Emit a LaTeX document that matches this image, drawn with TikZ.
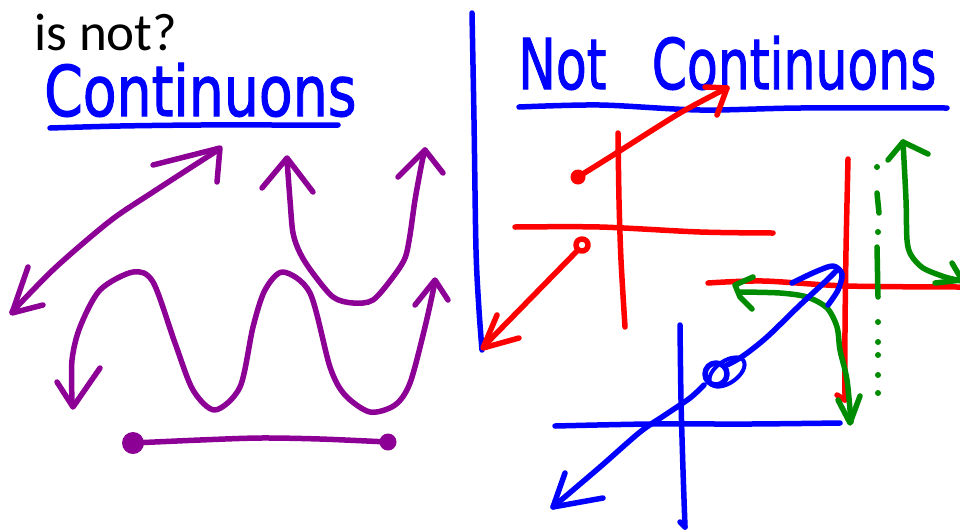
\documentclass[tikz,border=0pt]{standalone}
\usepackage{fontspec}
\usepackage{graphicx}
\setmainfont{Carlito}
\newfontfamily\hand[FakeBold=1.6]{DejaVu Sans}
\definecolor{pblue}{RGB}{0,0,255}
\definecolor{pred}{RGB}{255,0,0}
\definecolor{pgreen}{RGB}{0,140,0}
\definecolor{ppurple}{RGB}{140,0,150}
\tikzset{
  ink/.style={line width=5.5pt, line cap=round, line join=round},
  handtext/.style={inner sep=0pt, anchor=base west, text=pblue, text height=50pt, text depth=0pt, font=\hand\fontsize{70}{70}\selectfont},
}
\begin{document}
\begin{tikzpicture}[x=1pt,y=-1pt]
\fill[white] (0,0) rectangle (960,531);
\useasboundingbox (0,0) rectangle (960,531);

% titles
\node[inner sep=0pt, anchor=base west, text depth=0pt, font=\fontsize{53}{53}\selectfont] (q) at (34,50) {is not?};
\node[handtext] (cl) at (44,116) {\scalebox{0.79}[1]{Continuons}};
\node[handtext] (cr) at (518,89) {\scalebox{0.72}[1]{Not\hspace{0.9em}Continuons}};

% underlines and divider
\draw[ink, pblue] plot[smooth] coordinates {(50,128) (120,126) (200,125) (280,125) (338,125)};
\draw[ink, pblue] plot[smooth] coordinates {(519,107) (600,105) (700,110) (800,108) (947,108)};
\draw[ink, pblue] plot[smooth] coordinates {(472,13) (474,120) (476,250) (479,310) (482,350)};

% ---------- purple (continuous) ----------
\begin{scope}[ppurple, ink]
  % diagonal line
  \draw plot[smooth] coordinates {(12,312) (55,268) (110,221) (153,192) (218,150)};
  \draw (153,165) -- (220,148) -- (217,182);
  \draw (28,267) -- (12,313) -- (43,305);
  % U curve
  \draw plot[smooth] coordinates {(287,160) (290,200) (293,233) (300,253) (312,272) (333,297) (353,303) (373,300) (393,277) (405,258) (410,235) (415,200) (422,162) (425,150)};
  \draw (262,188) -- (287,158) -- (313,192);
  \draw (398,177) -- (425,150) -- (443,173);
  % wave
  \draw plot[smooth] coordinates {(72,400) (72,360) (80,327) (100,290) (133,272) (153,282) (175,343) (193,390) (215,410) (240,387) (253,327) (265,290) (283,272) (310,293) (330,367) (345,395) (370,412) (395,405) (410,383) (425,327) (435,282)};
  \draw (57,382) -- (73,407) -- (100,368);
  \draw (415,305) -- (435,280) -- (448,300);
  % segment with end points
  \fill (133,443) circle (11);
  \fill (388,442) circle (8.5);
  \draw plot[smooth] coordinates {(133,443) (200,440) (260,438) (320,439) (388,442)};
\end{scope}

% ---------- red ----------
\begin{scope}[pred, ink]
  \draw plot[smooth] coordinates {(618,133) (619,200) (621,260) (625,327)};
  \draw plot[smooth] coordinates {(515,227) (600,227) (700,232) (773,233)};
  \fill (578,177) circle (7.5);
  \draw plot[smooth] coordinates {(578,177) (618,152) (680,113) (727,88)};
  \draw (705,87) -- (727,88) -- (717,115);
  \draw (582,245) circle (6);
  \draw (577,251) -- (484,346);
  \draw (497,315) -- (483,348) -- (519,338);
  % second axes
  \draw plot[smooth] coordinates {(848,159) (846,250) (845,330) (845,400)};
  \draw (845,400) -- (837,395);
  \draw plot[smooth] coordinates {(708,283) (763,281) (847,286) (960,287)};
\end{scope}

% ---------- green ----------
\begin{scope}[pgreen, ink]
  \draw plot[smooth] coordinates {(740,292) (780,293) (807,297) (827,308) (837,327) (840,350) (847,380) (851,422)};
  \draw (753,277) -- (735,285) -- (740,297) -- (752,309);
  \draw (838,400) -- (850,423) -- (860,396);
  \draw plot[smooth] coordinates {(903,142) (906,200) (907,240) (911,255) (923,268) (945,277) (962,281)};
  \draw (888,160) -- (903,142) -- (928,154);
  \draw (952,263) -- (962,280) -- (935,283);
  % dash-dot asymptote
  \fill (877,167) circle (3);
  \draw (877,193) -- (879,213);
  \fill (878,232) circle (3);
  \draw (877,247) -- (878,297);
  \foreach \yy in {322,342,355,375,393} \fill (878,\yy) circle (3);
\end{scope}

% ---------- blue (removable discontinuity) ----------
\begin{scope}[pblue, ink]
  \draw plot[smooth] coordinates {(555,426) (650,424) (750,424) (840,423)};
  \draw plot[smooth] coordinates {(680,325) (681,400) (683,470) (685,527)};
  \draw (685,527) -- (680,522);
  \draw plot[smooth] coordinates {(553,507) (600,467) (640,432) (665,415) (690,398) (704,385)};
  \draw plot[smooth] coordinates {(727,365) (743,356) (767,337) (800,305) (827,280) (836,271)};
  \draw (565,473) -- (553,507) -- (603,498);
  \draw plot[smooth] coordinates {(792,283) (815,272) (833,266) (842,274) (838,290) (828,305)};
  \draw (716,374) circle (11);
  \draw[line width=4pt, rotate around={35:(727,372)}] (727,372) ellipse (20 and 11);
\end{scope}
\end{tikzpicture}
\end{document}
